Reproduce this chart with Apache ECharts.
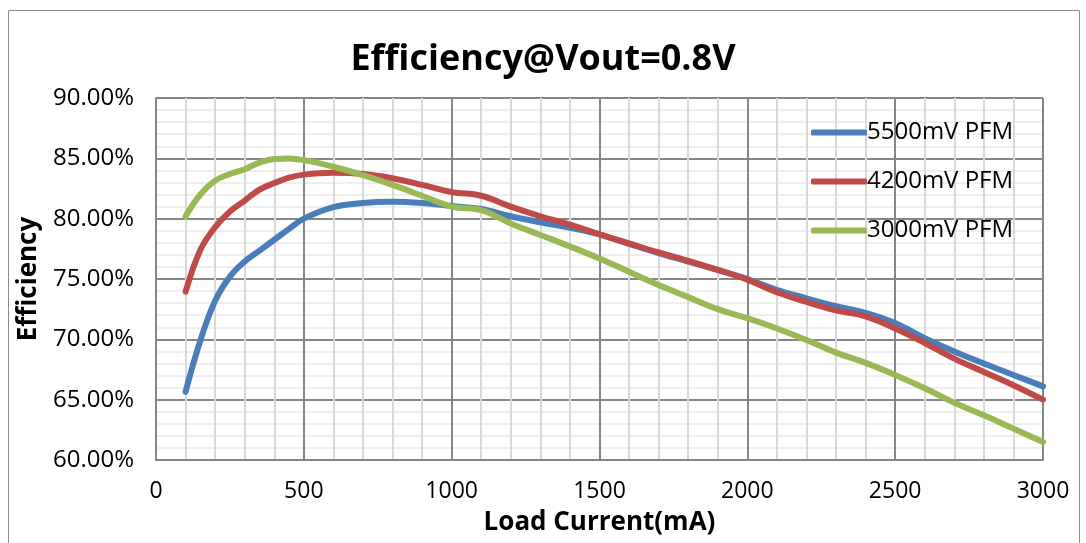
<!DOCTYPE html>
<html><head><meta charset="utf-8">
<script src="https://cdn.jsdelivr.net/npm/echarts@6/dist/echarts.min.js"></script>
<style>html,body{margin:0;padding:0;background:#fff}#c{width:1086px;height:543px}</style>
</head><body><div id="c"></div>
<script>
const seriesNames = ['5500mV PFM', '4200mV PFM', '3000mV PFM'];
const xBlue = [100,150,200,250,300,350,400,450,500,600,700,800,900,1000,1100,1200,1300,1400,1500,1600,1700,1800,1900,2000,2100,2200,2300,2400,2500,2600,2700,2800,2900,3000];
const yBlue = [65.65,69.9,73.2,75.2,76.45,77.35,78.25,79.15,80.0,80.95,81.3,81.4,81.3,81.05,80.8,80.2,79.7,79.25,78.7,77.9,77.15,76.45,75.75,75.0,74.1,73.4,72.75,72.2,71.35,70.1,69.0,68.0,67.05,66.1];
const xRed = [100,150,200,250,300,350,400,450,500,600,700,800,900,1000,1100,1200,1300,1400,1500,1600,1700,1800,1900,2000,2100,2200,2300,2400,2500,2600,2700,2800,2900,3000];
const yRed = [73.95,77.4,79.3,80.6,81.5,82.4,82.95,83.4,83.65,83.8,83.7,83.35,82.8,82.2,81.9,81.0,80.2,79.5,78.7,77.95,77.2,76.5,75.75,74.95,73.9,73.1,72.4,71.9,70.9,69.7,68.4,67.3,66.2,65.0];
const xGreen = [100,150,200,250,300,350,400,450,500,600,700,800,900,1000,1100,1200,1300,1400,1500,1600,1700,1800,1900,2000,2100,2200,2300,2400,2500,2600,2700,2800,2900,3000];
const yGreen = [80.2,82.0,83.15,83.7,84.1,84.65,84.95,84.98,84.85,84.3,83.6,82.8,81.9,81.0,80.7,79.6,78.65,77.7,76.7,75.6,74.5,73.5,72.5,71.75,70.9,69.95,68.9,68.05,67.05,65.95,64.75,63.7,62.6,61.5];
const colors = ['#4a7ebb', '#be4b48', '#98b954'];

const zip = (xs, ys) => xs.map((x, i) => [x, ys[i]]);
const chart = echarts.init(document.getElementById('c'));
const font = 'Open Sans';
chart.setOption({
  animation: false,
  color: colors,
  title: {
    text: 'Efficiency@Vout=0.8V', left: 'center', top: 37,
    textStyle: {fontFamily: font, fontWeight: 'bold', fontSize: 36, color: '#000'}
  },
  graphic: [{type: 'rect', shape: {x: 8.5, y: 10.5, width: 1071, height: 560}, style: {fill: 'none', stroke: '#8c8c8c', lineWidth: 1}, z: -10}],
  grid: {left: 156, right: 43, top: 98, bottom: 83},
  legend: {
    orient: 'vertical', left: 806, top: 114, itemGap: 22,
    itemWidth: 56, itemHeight: 6, icon: 'roundRect',
    textStyle: {fontFamily: font, fontSize: 24, lineHeight: 27, color: '#000', padding: [0, 0, 0, -5]},
    data: seriesNames
  },
  xAxis: {
    type: 'value', min: 0, max: 3000, interval: 500,
    name: 'Load Current(mA)', nameLocation: 'middle', nameGap: 50,
    nameTextStyle: {fontFamily: font, fontWeight: 'bold', fontSize: 26, color: '#000'},
    axisLine: {show: true, lineStyle: {color: '#868686', width: 2}},
    axisTick: {show: false},
    axisLabel: {fontFamily: font, fontSize: 23, color: '#000', margin: 20, formatter: v => String(v)},
    splitLine: {show: true, lineStyle: {color: '#868686', width: 2}},
    minorTick: {show: false, splitNumber: 5},
    minorSplitLine: {show: true, lineStyle: {color: '#d9d9d9', width: 2}}
  },
  yAxis: {
    type: 'value', min: 60, max: 90, interval: 5,
    name: 'Efficiency', nameLocation: 'middle', nameGap: 113, nameRotate: 90,
    nameTextStyle: {fontFamily: font, fontWeight: 'bold', fontSize: 26, color: '#000'},
    axisLine: {show: true, lineStyle: {color: '#868686', width: 2}},
    axisTick: {show: false},
    axisLabel: {fontFamily: font, fontSize: 24, color: '#000', margin: 22, formatter: v => v.toFixed(2) + '%'},
    splitLine: {show: true, lineStyle: {color: '#868686', width: 2}},
    minorTick: {show: false, splitNumber: 5},
    minorSplitLine: {show: true, lineStyle: {color: '#efefef', width: 2}}
  },
  series: [
    {name: seriesNames[0], type: 'line', data: zip(xBlue, yBlue), smooth: 0.4, showSymbol: false, lineStyle: {width: 6, cap: 'round'}, z: 3},
    {name: seriesNames[1], type: 'line', data: zip(xRed, yRed), smooth: 0.4, showSymbol: false, lineStyle: {width: 6, cap: 'round'}, z: 4},
    {name: seriesNames[2], type: 'line', data: zip(xGreen, yGreen), smooth: 0.4, showSymbol: false, lineStyle: {width: 6, cap: 'round'}, z: 5}
  ]
});
</script></body></html>
